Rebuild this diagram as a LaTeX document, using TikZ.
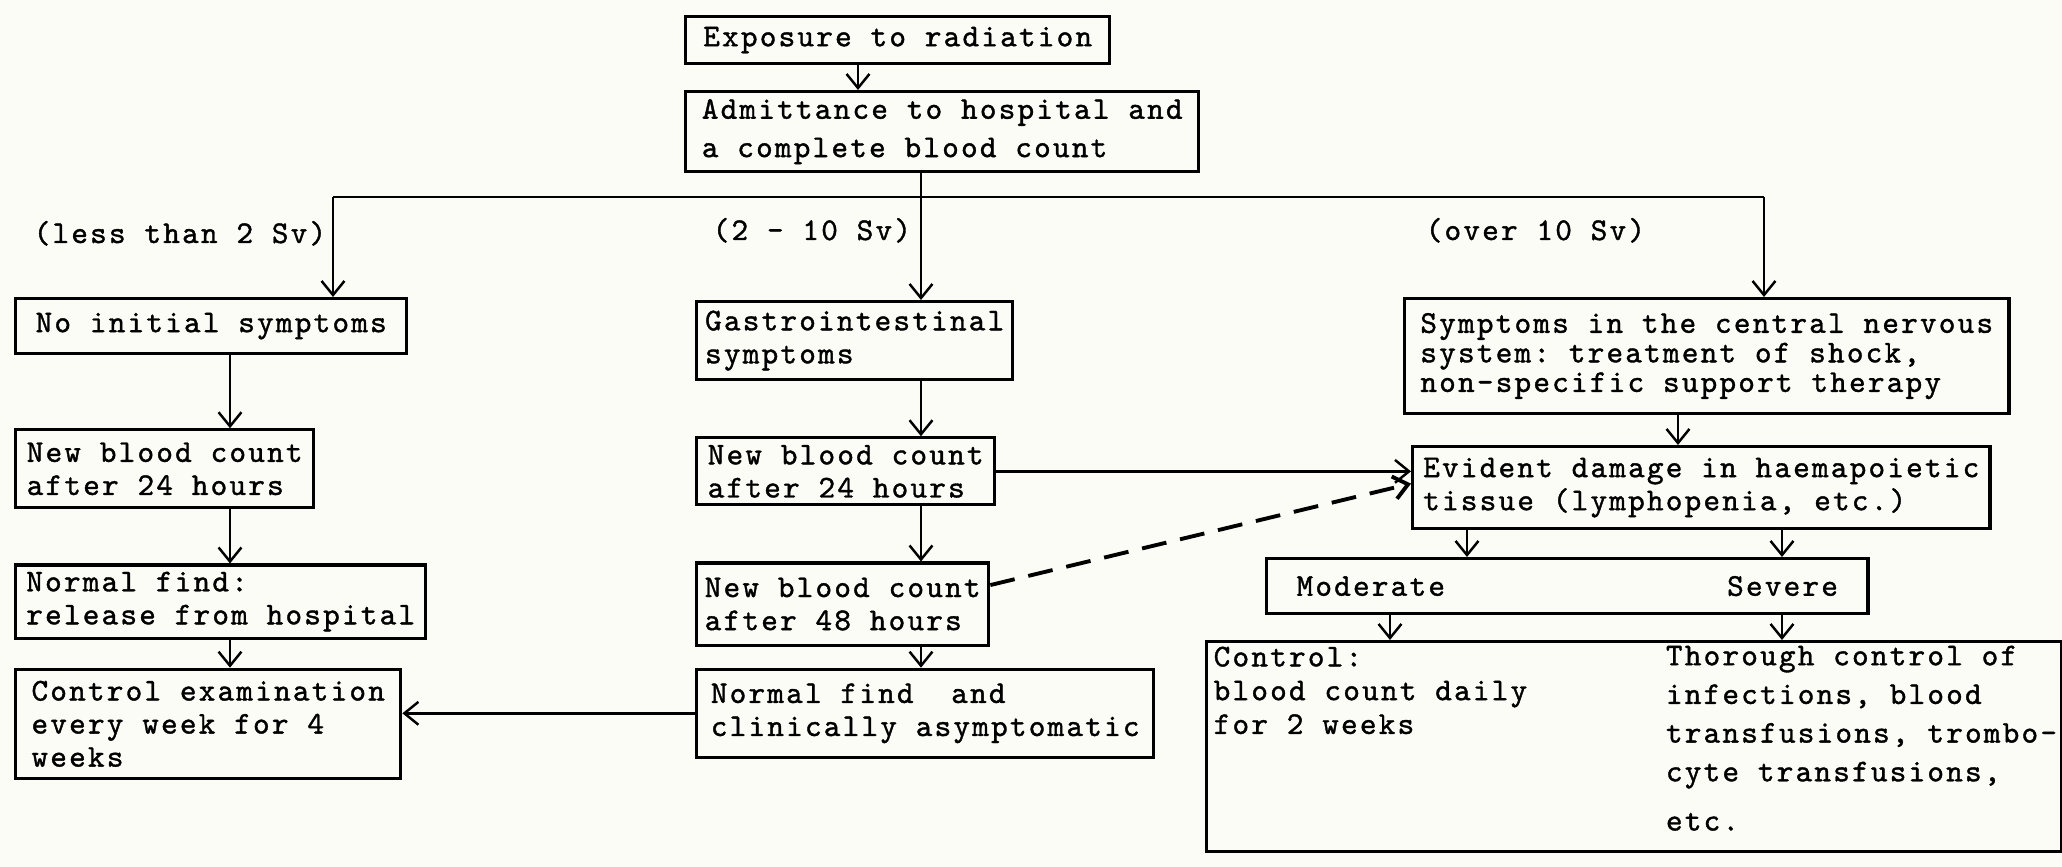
\documentclass[tikz,border=0pt]{standalone}
\usepackage{fontspec}
\setmonofont[LetterSpace=7,FakeBold=1.2]{lmmono10-regular.otf}
\usetikzlibrary{positioning,arrows.meta}
\definecolor{paper}{RGB}{252,252,246}

\begin{document}
\begin{tikzpicture}[x=0.01cm,y=-0.01cm,node distance=0.5cm,
      >={Straight Barb[length=4pt,width=6.5pt]},
      box/.style={draw,line width=0.9pt,anchor=north west,align=left,inner sep=1pt,
        font=\ttfamily\fontsize{9}{9.4}\selectfont},
      lbl/.style={anchor=base west,inner sep=0pt,font=\ttfamily\fontsize{9}{9.4}\selectfont}]
      \fill[paper] (0,0) rectangle (2062,867);
      \useasboundingbox (0,0) rectangle (2062,867);
      \node[box,minimum width=4.24cm,minimum height=0.47cm] (expo) at (684,15) {Exposure to radiation};
      \node[box,minimum width=5.13cm,minimum height=0.80cm,font=\ttfamily\fontsize{9}{10.9}\selectfont] (admit) at (684,90) {Admittance to hospital and\\a complete blood count};
      \node[lbl] (dose_lo) at (33,243) {(less than 2 Sv)};
      \node[lbl] (dose_mid) at (712,240) {(2 - 10 Sv)};
      \node[lbl] (dose_hi) at (1425,240) {(over 10 Sv)};
      % less than 2 Sv
      \node[box,minimum width=3.91cm,minimum height=0.55cm] (nosym) at (14,297) {No initial symptoms};
      \node[box,minimum width=2.98cm,minimum height=0.78cm,below=0.73cm of nosym.south west,anchor=north west] (nbc_l) {New blood count\\after 24 hours};
      \node[box,minimum width=4.10cm,minimum height=0.73cm,below=0.54cm of nbc_l.south west,anchor=north west] (norm_l) {Normal find:\\release from hospital};
      \node[box,minimum width=3.85cm,minimum height=1.09cm,below=0.28cm of norm_l.south west,anchor=north west] (exam) {Control examination\\every week for 4\\weeks};
      % 2 - 10 Sv
      \node[box,minimum width=3.16cm,minimum height=0.78cm] (gastro) at (695,300) {Gastrointestinal\\symptoms};
      \node[box,minimum width=2.98cm,minimum height=0.67cm,below=0.55cm of gastro.south west,anchor=north west] (nbc_24) {New blood count\\after 24 hours};
      \node[box,minimum width=2.92cm,minimum height=0.82cm,below=0.55cm of nbc_24.south west,anchor=north west] (nbc_48) {New blood count\\after 48 hours};
      \node[box,minimum width=4.57cm,minimum height=0.88cm,below=0.21cm of nbc_48.south west,anchor=north west] (norm_m) {Normal find\ \ and\\clinically asymptomatic};
      % over 10 Sv
      \node[box,minimum width=6.04cm,minimum height=1.15cm,font=\ttfamily\fontsize{9}{8.4}\selectfont] (cns) at (1403,297) {Symptoms in the central nervous\\system: treatment of shock,\\non-specific support therapy};
      \node[box,minimum width=5.77cm,minimum height=0.82cm] (evid) at (1411,445) {Evident damage in haemapoietic\\tissue (lymphopenia, etc.)};
      \node[box,minimum width=6.01cm,minimum height=0.55cm] (grade) at (1265,557) {Moderate\hspace{2.82cm}Severe};
      \node[box,minimum width=8.54cm,minimum height=2.10cm] (treat) at (1205,640) {};
      \node[below right=0.06cm and 0.08cm of treat.north west,align=left,inner sep=0pt,
        font=\ttfamily\fontsize{9}{9.6}\selectfont] (daily) {Control:\\blood count daily\\for 2 weeks};
      \node[below right=0.05cm and 4.6cm of treat.north west,align=left,inner sep=0pt,
        font=\ttfamily\fontsize{9}{11}\selectfont] (thor) {Thorough control of\\infections, blood\\transfusions, trombo-\\cyte transfusions,\\[3pt]etc.};
      \coordinate (c_top) at (858,0);
      \coordinate (c_mid) at (921,0);
      \coordinate (c_lo) at (333,0);
      \coordinate (c_hi) at (1764,0);
      \coordinate (c_left) at (230,0);
      \coordinate (c_cns) at (1678,0);
      \coordinate (c_mod) at (1467,0);
      \coordinate (c_ctl) at (1390,0);
      \coordinate (c_sev) at (1782,0);
      \coordinate (split) at (921,197);
      \draw[line width=0.7pt] (c_lo |- split) -- (c_hi |- split);
        \path[->,line width=0.7pt]
        (expo.south -| c_top) edge (admit.north -| c_top)
        (admit.south -| c_mid) edge (gastro.north -| c_mid)
        (c_lo |- split) edge (nosym.north -| c_lo)
        (c_hi |- split) edge (cns.north -| c_hi)
        (nosym.south -| c_left) edge (nbc_l.north -| c_left)
        (nbc_l.south -| c_left) edge (norm_l.north -| c_left)
        (norm_l.south -| c_left) edge (exam.north -| c_left)
        (gastro.south -| c_mid) edge (nbc_24.north -| c_mid)
        (nbc_24.south -| c_mid) edge (nbc_48.north -| c_mid)
        (nbc_48.south -| c_mid) edge (norm_m.north -| c_mid)
        (norm_m.west) edge (norm_m.west -| exam.east)
        (nbc_24.east) edge (nbc_24.east -| evid.west)
        ([yshift=0.19cm]nbc_48.east) edge[dash pattern=on 0.25cm off 0.14cm,line width=1.1pt] ([yshift=0.04cm]evid.west)
        (cns.south -| c_cns) edge (evid.north -| c_cns)
        (evid.south -| c_mod) edge (grade.north -| c_mod)
        (evid.south -| c_sev) edge (grade.north -| c_sev)
        (grade.south -| c_ctl) edge (treat.north -| c_ctl)
        (grade.south -| c_sev) edge (treat.north -| c_sev);
    \end{tikzpicture}
\end{document}
